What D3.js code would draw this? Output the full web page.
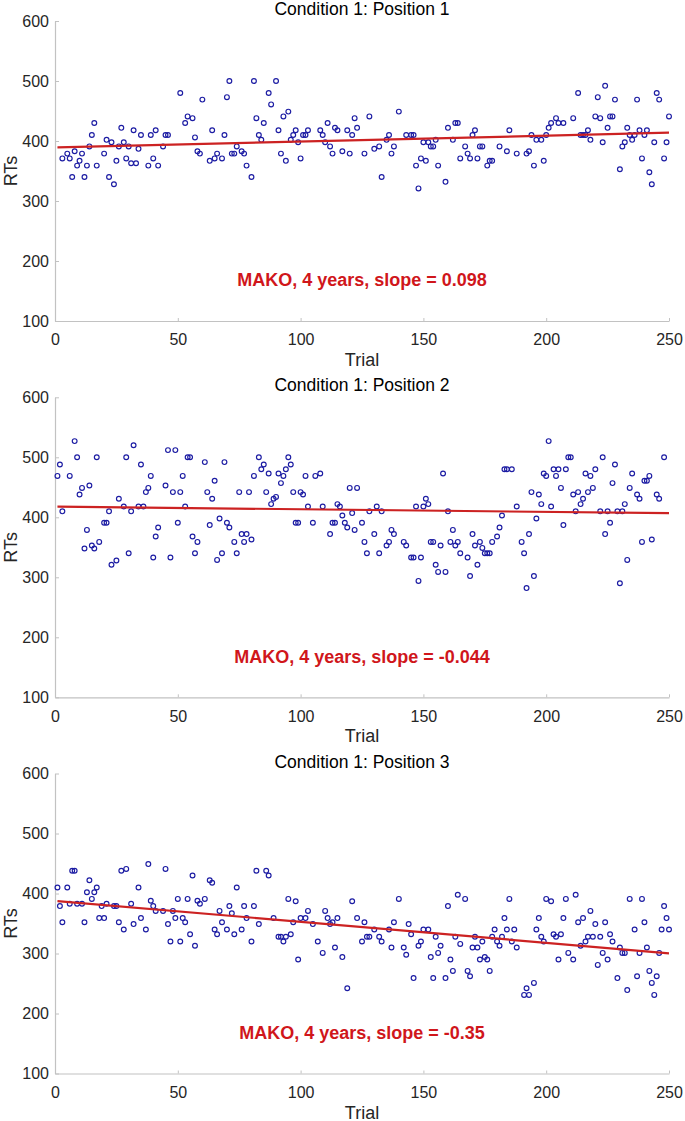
<!DOCTYPE html>
<html><head><meta charset="utf-8">
<script src="https://cdnjs.cloudflare.com/ajax/libs/d3/7.8.5/d3.min.js"></script>
<style>body{margin:0;background:#fff}svg{display:block}</style>
</head><body>
<svg id="chart" width="685" height="1121"></svg>
<script>
const panelTitles = ["Condition 1: Position 1", "Condition 1: Position 2", "Condition 1: Position 3"];
const annotations = ["MAKO, 4 years, slope = 0.098", "MAKO, 4 years, slope = -0.044", "MAKO, 4 years, slope = -0.35"];
const slopes = [0.098, -0.044, -0.35];
const intercepts = [389.3, 417.8, 387.8];
const xTicks = [0, 50, 100, 150, 200, 250];
const yTicks = [100, 200, 300, 400, 500, 600];
const xLabel = "Trial";
const yLabel = "RTs";

const trials1 = [3,5,6,7,8,9,10,11,12,13,14,15,16,17,20,21,22,23,24,25,26,27,28,29,30,31,32,33,34,35,38,39,40,41,42,44,45,46,51,53,54,56,57,58,59,60,63,64,65,66,68,69,70,71,72,73,74,76,77,78,80,81,82,83,84,85,87,88,90,91,92,93,94,95,96,97,98,99,100,101,102,103,108,109,110,111,112,113,114,115,117,119,120,121,122,123,126,128,130,132,133,135,136,137,138,140,143,145,146,147,148,149,150,151,152,153,154,155,156,159,160,162,163,164,165,167,168,169,170,171,172,173,174,176,177,178,181,184,185,188,192,193,194,195,196,198,199,200,201,202,204,205,207,211,213,214,215,216,217,218,220,221,222,223,224,225,226,227,228,230,231,232,233,234,235,236,237,238,239,240,241,242,243,244,245,246,248,249,250];
const rts1 = [371,379,371,340,383,359,367,379,340,359,391,410,430,359,379,402,340,398,328,367,391,422,398,371,391,363,418,363,387,410,359,410,371,418,359,391,410,410,480,430,441,438,406,383,379,469,367,418,371,379,371,410,473,500,379,379,391,383,379,359,340,500,438,410,402,430,480,461,500,418,379,441,367,449,402,410,418,398,371,410,410,418,418,410,398,430,391,379,422,418,383,418,379,410,438,422,379,441,387,391,340,402,410,379,391,449,410,410,410,359,321,371,398,367,398,391,391,402,359,332,422,402,430,430,371,391,379,371,410,418,371,391,391,359,367,367,391,383,418,379,379,383,410,359,402,402,367,410,422,430,438,430,430,438,480,410,410,410,418,402,441,473,438,398,492,422,441,441,469,353,391,398,422,410,402,410,469,418,371,410,418,348,328,398,480,469,371,398,441];

const trials2 = [1,2,3,6,8,9,10,11,12,13,14,15,16,17,18,20,21,22,23,25,26,28,29,30,31,32,34,35,36,37,38,39,40,41,42,45,46,47,48,49,50,51,52,53,54,55,56,57,58,61,62,63,64,65,66,67,68,69,70,71,73,74,75,76,77,78,79,80,81,83,84,85,86,87,88,89,90,91,92,93,94,95,96,97,98,99,100,101,102,103,105,106,108,109,112,113,114,115,116,117,118,119,120,121,122,123,125,126,127,128,130,131,132,133,135,136,137,138,142,143,145,146,147,148,149,150,151,152,153,154,155,156,157,158,159,160,161,162,163,164,165,168,169,170,171,172,173,174,175,176,177,178,180,181,182,183,184,186,188,190,191,192,193,194,195,196,197,198,199,200,201,202,203,204,205,206,207,208,209,210,211,212,213,214,215,216,217,218,219,220,222,223,224,225,226,227,228,229,230,231,232,233,234,235,237,238,239,240,241,242,243,245,246,248];
const rts2 = [469,488,410,469,527,500,438,449,348,379,453,353,348,500,359,391,391,410,321,328,431,418,500,340,410,520,418,488,418,442,449,469,333,368,383,453,512,333,442,512,391,442,469,418,500,500,368,340,359,492,442,387,431,461,329,398,340,492,391,383,359,340,442,372,359,372,442,363,469,500,480,488,442,473,422,431,434,473,457,469,480,500,488,442,391,391,442,438,469,418,391,469,473,418,372,391,391,422,418,403,391,383,449,407,379,449,391,359,340,410,372,418,340,410,353,359,379,372,359,353,333,333,418,294,333,418,431,422,359,359,321,309,353,473,309,410,359,379,353,359,340,333,302,372,353,321,359,349,340,340,340,359,368,383,403,480,480,480,418,359,340,282,372,442,302,398,438,422,473,469,527,418,480,469,480,449,387,480,500,500,438,410,442,422,431,473,442,469,449,480,410,500,372,410,391,457,488,410,290,410,422,329,449,473,438,431,359,461,461,469,363,438,431,500];

const trials3 = [1,2,3,5,6,7,8,9,11,12,13,14,15,16,17,18,19,20,21,24,25,26,27,28,29,31,32,34,35,37,38,39,40,41,44,45,46,47,48,49,50,51,52,53,54,55,56,57,58,59,61,63,64,65,66,67,68,70,71,72,73,74,76,77,78,80,81,82,83,86,87,89,91,92,93,94,95,96,97,98,99,100,102,103,105,107,109,110,111,112,113,114,115,117,119,121,123,125,126,127,128,130,132,133,136,137,138,140,142,143,144,145,146,148,149,150,152,153,154,155,156,157,159,160,161,162,163,164,165,167,168,169,170,171,172,173,174,175,176,177,178,179,180,181,182,183,184,185,186,187,188,191,192,193,195,196,197,198,199,200,202,203,204,205,206,207,208,209,211,212,213,214,215,216,217,218,219,220,221,222,223,224,225,226,227,229,230,231,232,233,234,236,237,238,239,240,241,242,243,244,245,246,247,248,249,250];
const rts3 = [410,379,352,410,383,438,438,383,383,352,402,422,391,402,410,359,379,359,383,379,379,352,438,340,441,383,349,410,359,340,449,388,379,371,371,441,349,320,371,359,391,320,359,352,391,332,430,313,388,383,391,422,418,340,332,371,352,340,379,367,332,410,340,379,359,320,379,438,349,438,430,359,328,328,320,328,391,332,352,387,290,359,359,371,349,320,301,371,359,349,352,310,359,294,242,387,359,320,352,328,328,340,328,320,340,310,352,391,310,298,349,332,259,313,320,340,340,294,259,328,301,313,259,379,290,271,328,398,316,391,271,262,310,328,310,290,320,294,290,271,328,340,320,313,328,359,340,391,320,340,310,231,242,231,251,340,359,328,320,391,387,332,328,290,332,359,391,301,290,398,352,313,359,320,328,371,328,349,281,328,301,352,290,332,320,259,310,301,301,239,391,340,262,301,391,352,310,271,251,231,262,301,340,379,359,340];

const trialSets = [trials1, trials2, trials3];
const rtSets = [rts1, rts2, rts3];

const svg = d3.select("#chart");
const left = 55, right = 669;
const panelTops = [21, 397.3, 773.5];
const plotH = 300;
const font = "'Liberation Sans', Arial, Helvetica, sans-serif";
const axisColor = "#c2c2c2";
const textColor = "#262626";

const x = d3.scaleLinear().domain([0, 250]).range([left, right]);

panelTitles.forEach((title, i) => {
  const top = panelTops[i];
  const y = d3.scaleLinear().domain([100, 600]).range([top + plotH, top]);
  const g = svg.append("g");

  const xa = g.append("g").attr("transform", `translate(0,${top + plotH})`)
    .call(d3.axisBottom(x).tickValues(xTicks).tickSizeInner(-3).tickSizeOuter(0).tickPadding(13));
  const ya = g.append("g").attr("transform", `translate(${left},0)`)
    .call(d3.axisLeft(y).tickValues(yTicks).tickSizeInner(-4).tickSizeOuter(0).tickPadding(6));
  [xa, ya].forEach(a => {
    a.select(".domain").attr("stroke", axisColor).attr("stroke-width", 1.2);
    a.selectAll(".tick line").attr("stroke", axisColor).attr("stroke-width", 1);
    a.selectAll(".tick text").attr("fill", textColor).style("font-family", font).style("font-size", "16px");
  });

  g.append("text").attr("x", x(125)).attr("y", top - 6).attr("text-anchor", "middle")
    .style("font-family", font).style("font-size", "17.5px").attr("fill", "#000").text(title);
  g.append("text").attr("x", x(125)).attr("y", top + plotH + 45).attr("text-anchor", "middle")
    .style("font-family", font).style("font-size", "18px").attr("fill", textColor).text(xLabel);
  g.append("text").attr("transform", `translate(${17},${top + plotH / 2}) rotate(-90)`)
    .attr("text-anchor", "middle").style("font-family", font).style("font-size", "18px")
    .attr("fill", textColor).text(yLabel);

  const pts = d3.zip(trialSets[i], rtSets[i]);
  g.append("g").selectAll("circle").data(pts).join("circle")
    .attr("cx", d => x(d[0])).attr("cy", d => y(d[1])).attr("r", 2.4)
    .attr("fill", "none").attr("stroke", "#1c1ca3").attr("stroke-width", 1.15);

  const fitX = [1, 250];
  g.append("path")
    .datum(fitX.map(t => [t, intercepts[i] + slopes[i] * t]))
    .attr("d", d3.line().x(d => x(d[0])).y(d => y(d[1])))
    .attr("stroke", "#cc2222").attr("stroke-width", 2.2).attr("fill", "none");

  g.append("text").attr("x", x(125)).attr("y", y(158)).attr("text-anchor", "middle")
    .style("font-family", font).style("font-size", "18px").style("font-weight", "bold")
    .attr("fill", "#d0161b").text(annotations[i]);
});
</script>
</body></html>
